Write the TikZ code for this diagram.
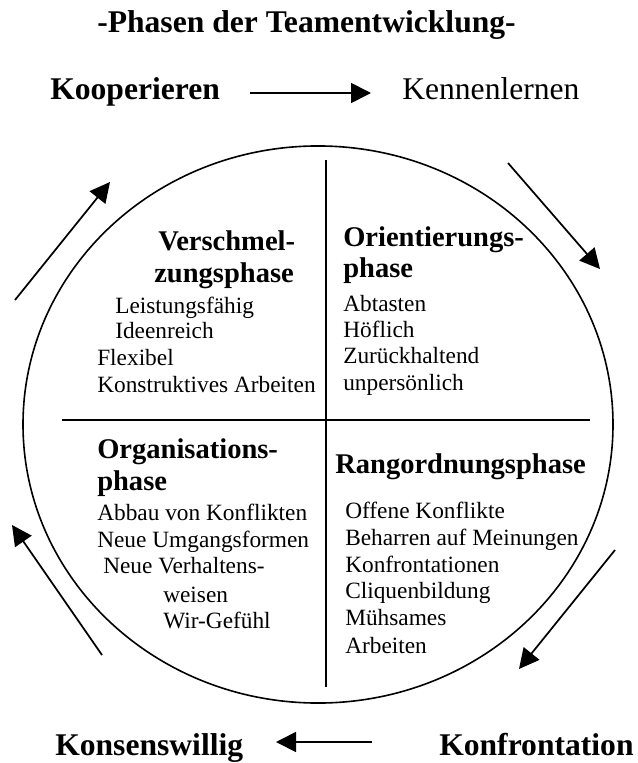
\documentclass[tikz,border=0pt]{standalone}
\usepackage{fontspec}
\setmainfont{Liberation Serif}
\usetikzlibrary{arrows.meta}
\begin{document}
\begin{tikzpicture}[x=0.75pt,y=-0.75pt,
  txt/.style={inner sep=0pt, anchor=base west},
  big/.style={txt, font=\fontsize{23.7}{28}\selectfont\bfseries},
  bigreg/.style={txt, font=\fontsize{23.7}{28}\selectfont},
  head/.style={txt, font=\fontsize{21.4}{25}\selectfont\bfseries},
  body/.style={txt, font=\fontsize{17.5}{20}\selectfont},
  flow/.style={line width=1.3pt, -{Triangle[length=15pt,width=15pt]}},
  rule/.style={line width=1.2pt}
]
\useasboundingbox (0,0) rectangle (637,763);

% title and cycle labels
\node[big] (title) at (97,33) {-Phasen der Teamentwicklung-};
\node[big] (koop) at (50,100) {Kooperieren};
\node[bigreg] (kenn) at (402,100) {Kennenlernen};
\node[big] (kons) at (55,755) {Konsenswillig};
\node[big] (konf) at (439,755) {Konfrontation};

% circle divided into four phases
\draw[rule] (318,424.5) ellipse [x radius=221.25pt, y radius=208.9pt];
\coordinate (vtop) at (326,160);
\coordinate (vbot) at (326,687);
\coordinate (hleft) at (62,420);
\coordinate (hright) at (590,420);
\draw[rule] (vtop) -- (vbot);
\draw[rule] (hleft) -- (hright);

% arrows around the circle
\coordinate (a1s) at (250,93);  \coordinate (a1e) at (371,93);
\coordinate (a2s) at (508,163); \coordinate (a2e) at (600,269);
\coordinate (a3s) at (615,550); \coordinate (a3e) at (519,669);
\coordinate (a4s) at (372,742); \coordinate (a4e) at (276,742);
\coordinate (a5s) at (102,655); \coordinate (a5e) at (12,525);
\coordinate (a6s) at (15,300);  \coordinate (a6e) at (110,182);
\draw[flow] (a1s) -- (a1e);
\draw[flow] (a2s) -- (a2e);
\draw[flow] (a3s) -- (a3e);
\draw[flow] (a4s) -- (a4e);
\draw[flow] (a5s) -- (a5e);
\draw[flow] (a6s) -- (a6e);

% upper left
\node[head] (v1) at (158,250) {Verschmel-};
\node[head] (v2) at (154,282) {zungsphase};
\node[body] (v3) at (115,313) {Leistungsfähig};
\node[body] (v4) at (115,338) {Ideenreich};
\node[body] (v5) at (97,365) {Flexibel};
\node[body] (v6) at (97,392) {Konstruktives Arbeiten};

% upper right
\node[head] (o1) at (343,246) {Orientierungs-};
\node[head] (o2) at (343,277) {phase};
\node[body] (o3) at (343,311) {Abtasten};
\node[body] (o4) at (343,337) {Höflich};
\node[body] (o5) at (343,363) {Zurückhaltend};
\node[body] (o6) at (343,390) {unpersönlich};

% lower left
\node[head] (g1) at (97,458) {Organisations-};
\node[head] (g2) at (97,490) {phase};
\node[body] (g3) at (97,520) {Abbau von Konflikten};
\node[body] (g4) at (97,547) {Neue Umgangsformen};
\node[body] (g5) at (103,573) {Neue Verhaltens-};
\node[body] (g6) at (163,602) {weisen};
\node[body] (g7) at (163,628) {Wir-Gefühl};

% lower right
\node[head] (r1) at (335,473) {Rangordnungsphase};
\node[body] (r2) at (345,518) {Offene Konflikte};
\node[body] (r3) at (345,545) {Beharren auf Meinungen};
\node[body] (r4) at (345,572) {Konfrontationen};
\node[body] (r5) at (345,598) {Cliquenbildung};
\node[body] (r6) at (345,625) {Mühsames};
\node[body] (r7) at (345,653) {Arbeiten};
\end{tikzpicture}
\end{document}
